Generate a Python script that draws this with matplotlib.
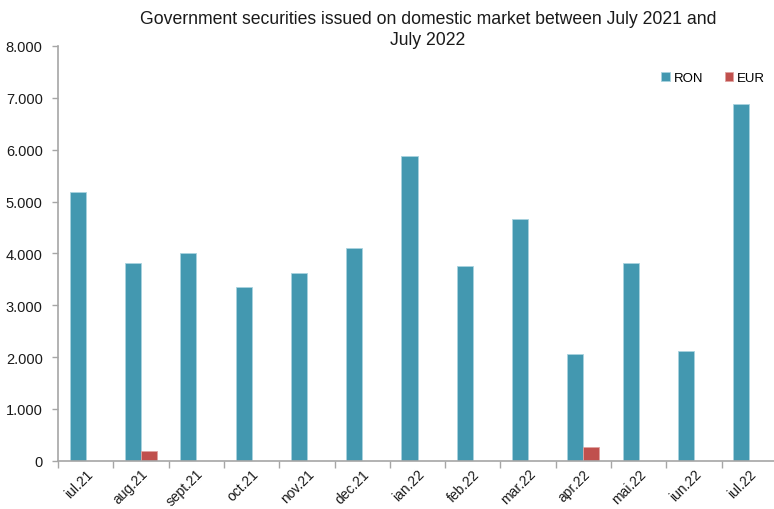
import numpy as np
import matplotlib.pyplot as plt
from matplotlib.ticker import FuncFormatter, FixedLocator

plt.rcParams['font.family'] = ['Liberation Sans', 'DejaVu Sans']

months = ['iul.21', 'aug.21', 'sept.21', 'oct.21', 'nov.21', 'dec.21', 'ian.22',
          'feb.22', 'mar.22', 'apr.22', 'mai.22', 'iun.22', 'iul.22']
ron = [5180, 3810, 4000, 3350, 3620, 4110, 5880, 3760, 4670, 2050, 3810, 2110, 6880]
eur = [0, 180, 0, 0, 0, 0, 0, 0, 0, 260, 0, 0, 0]

ron_color = '#4398b0'
eur_color = '#c0504d'
grey = '#a6a6a6'

fig = plt.figure(figsize=(7.74, 5.10), dpi=100)
ax = fig.add_axes([58 / 774, (510 - 461.7) / 510, (777 - 58) / 774, (461.7 - 47) / 510])

x = np.arange(len(months))
w = 0.29
ax.bar(x - w / 2, ron, width=w, color=ron_color, edgecolor='#a9d3df', linewidth=0.6, label='RON')
ax.bar(x + w / 2, eur, width=w, color=eur_color, edgecolor='#e0a3a1', linewidth=0.6, label='EUR')

ax.set_xlim(-0.5, len(months) - 0.5)
ax.set_ylim(0, 8000)
ax.set_yticks(np.arange(0, 8001, 1000))
ax.yaxis.set_major_formatter(FuncFormatter(lambda v, p: f'{int(v):,}'.replace(',', '.')))

ax.set_xticks(x)
ax.set_xticklabels(months, rotation=45, ha='right', rotation_mode='anchor')
ax.xaxis.set_minor_locator(FixedLocator(np.arange(-0.5, len(months), 1)))
ax.tick_params(axis='x', which='major', length=0, pad=4, labelsize=10, colors='#1a1a1a')
ax.tick_params(axis='x', which='minor', length=5, color=grey, width=1)
ax.tick_params(axis='y', length=4, color=grey, width=1, labelsize=10.5, labelcolor='#1a1a1a', pad=7)

for s in ['top', 'right']:
    ax.spines[s].set_visible(False)
for s in ['left', 'bottom']:
    ax.spines[s].set_color(grey)
    ax.spines[s].set_linewidth(1.2)

ax.legend(loc='upper right', bbox_to_anchor=(1.0, 0.965), ncol=2, frameon=False,
          fontsize=9.5, handlelength=0.65, handleheight=0.65, handletextpad=0.3, columnspacing=1.6)

fig.text(428 / 774, 1 - 30 / 510, 'Government securities issued on domestic market between July 2021 and\nJuly 2022',
         ha='center', va='center', fontsize=12.7, color='#1a1a1a', linespacing=1.3)

fig.savefig('out.png', dpi=100)
